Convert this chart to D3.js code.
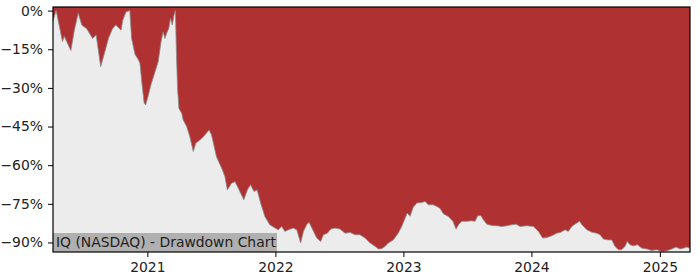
<!DOCTYPE html>
<html>
<head>
    <script src="https://d3js.org/d3.v7.min.js"></script>
    <style>
        body { margin: 0; background: #fff; }
        text { font-family: "DejaVu Sans", sans-serif; }
    </style>
</head>
<body>
    <svg id="chart"></svg>
    <script>
        // Drawdown values (%), one per date
        const dates = [
            "2020-04-07","2020-04-16","2020-05-04","2020-05-09","2020-05-28","2020-06-07","2020-06-18","2020-06-28",
            "2020-07-12","2020-07-29","2020-08-08","2020-08-21","2020-09-07","2020-09-12","2020-09-24","2020-10-03",
            "2020-10-18","2020-10-23","2020-11-01","2020-11-12","2020-11-17","2020-11-27","2020-12-06","2020-12-11",
            "2020-12-16","2020-12-23","2020-12-27","2021-01-04","2021-01-11","2021-01-23","2021-02-01","2021-02-09",
            "2021-02-15","2021-02-20","2021-02-25","2021-03-03","2021-03-08","2021-03-13","2021-03-18","2021-03-22",
            "2021-03-25","2021-03-28","2021-04-01","2021-04-09","2021-04-13","2021-04-23","2021-05-02","2021-05-12",
            "2021-05-19","2021-05-31","2021-06-14","2021-06-26","2021-07-03","2021-07-17","2021-08-01","2021-08-10",
            "2021-08-17","2021-08-29","2021-09-08","2021-09-17","2021-10-03","2021-10-13","2021-10-22","2021-11-01",
            "2021-11-10","2021-11-20","2021-12-02","2021-12-16","2021-12-31","2022-01-09","2022-01-19","2022-01-28",
            "2022-02-07","2022-02-21","2022-03-03","2022-03-14","2022-03-22","2022-03-31","2022-04-07","2022-04-15",
            "2022-04-29","2022-05-10","2022-05-18","2022-05-29","2022-06-08","2022-06-20","2022-07-04","2022-07-19",
            "2022-08-02","2022-08-16","2022-08-30","2022-09-14","2022-09-28","2022-10-12","2022-10-22","2022-10-31",
            "2022-11-10","2022-11-19","2022-12-03","2022-12-17","2022-12-27","2023-01-06","2023-01-12","2023-01-20",
            "2023-01-29","2023-02-08","2023-02-22","2023-03-04","2023-03-13","2023-03-27","2023-04-06","2023-04-15",
            "2023-04-25","2023-05-09","2023-05-22","2023-05-31","2023-06-07","2023-06-16","2023-07-01","2023-07-15",
            "2023-07-24","2023-08-01","2023-08-10","2023-08-17","2023-08-27","2023-09-10","2023-09-24","2023-10-09",
            "2023-10-23","2023-11-06","2023-11-18","2023-11-30","2023-12-19","2024-01-07","2024-01-21","2024-02-02",
            "2024-02-14","2024-02-28","2024-03-13","2024-03-23","2024-04-06","2024-04-15","2024-04-25","2024-05-05",
            "2024-05-17","2024-05-24","2024-06-07","2024-06-21","2024-07-05","2024-07-15","2024-07-24","2024-08-07",
            "2024-08-17","2024-08-26","2024-09-05","2024-09-14","2024-09-24","2024-09-30","2024-10-08","2024-10-18",
            "2024-10-29","2024-11-11","2024-11-25","2024-12-09","2024-12-23","2025-01-07","2025-01-21","2025-02-04",
            "2025-02-16","2025-02-28","2025-03-09","2025-03-19","2025-03-28"
        ];
        const drawdown = [
            -4, 0, -12, -10, -15.5, -7.5, -1, -5.6,
            -7, -10.8, -9.5, -21.8, -13.4, -10.8, -6.9, -5.6,
            -7.6, -3.7, -0.5, 0, -10.8, -17, -19, -20.5,
            -27.6, -36, -36.6, -32.8, -28.9, -23.7, -19.8, -12.1,
            -8.2, -10.8, -8.8, -6.9, -3, -5.6, -1.7, 0,
            -17, -30, -38, -39.8, -42.4, -45, -48.9, -54.7,
            -51.5, -50.2, -48.3, -46.3, -48.3, -56.7, -61.2, -64.4,
            -69.6, -67, -66.4, -68.9, -73.4, -69.6, -67.6, -70.2,
            -69.6, -74.7, -79.9, -83.1, -84.4, -85.1, -83.8, -85.7,
            -85.1, -84.4, -85.1, -90.2, -85.7, -83.1, -82.2, -84.4,
            -88.3, -89.6, -87, -86.4, -84.8, -84.4, -84.8, -86.4,
            -86.1, -87, -87, -88.3, -90.2, -91.5, -92.5, -92.4,
            -91.5, -90.2, -89, -86.4, -83.8, -80.5, -78.6, -79.8,
            -76.3, -74.7, -74.5, -74.1, -75.4, -75.4, -76, -76.7,
            -78.9, -79.9, -81.8, -84.8, -83.1, -81.8, -81.8, -81.6,
            -81.8, -79.6, -79.6, -81.2, -82.9, -83.4, -83.5, -83.8,
            -83.5, -83.1, -82.9, -83.8, -83.5, -83.8, -85.7, -88.3,
            -88.1, -87.4, -86.4, -86.1, -85.1, -85.7, -83.8, -82.8,
            -81.8, -83.1, -85.1, -86, -86.4, -87, -88.7, -89,
            -89, -91.5, -92.8, -92.8, -91.5, -89.6, -90.9, -91.3,
            -90.9, -92.2, -92.5, -93.1, -92.8, -93.5, -93.2, -92.5,
            -91.8, -92.5, -92.2, -91.8, -92.2
        ];
        const yTicks = [0, -15, -30, -45, -60, -75, -90];
        const xTickYears = [2021, 2022, 2023, 2024, 2025];
        const title = "IQ (NASDAQ) - Drawdown Chart";

        const width = 700, height = 280;
        const margin = {top: 7, right: 10, bottom: 28, left: 53};

        const parse = d3.timeParse("%Y-%m-%d");
        const data = dates.map((d, i) => ({date: parse(d), value: drawdown[i]}));

        const svg = d3.select("#chart")
            .attr("width", width)
            .attr("height", height);

        const x = d3.scaleTime()
            .domain(d3.extent(data, d => d.date))
            .range([margin.left, width - margin.right]);

        const y = d3.scaleLinear()
            .domain([-93.7, 1.4])
            .range([height - margin.bottom, margin.top]);

        // Red background for the plot area
        svg.append("rect")
            .attr("x", margin.left)
            .attr("y", margin.top)
            .attr("width", width - margin.left - margin.right)
            .attr("height", height - margin.top - margin.bottom)
            .attr("fill", "#b03131");

        // Grey area under the drawdown curve
        const area = d3.area()
            .x(d => x(d.date))
            .y0(height - margin.bottom)
            .y1(d => y(d.value));

        svg.append("path")
            .datum(data)
            .attr("d", area)
            .attr("fill", "#ececec");

        const line = d3.line()
            .x(d => x(d.date))
            .y(d => y(d.value));

        svg.append("path")
            .datum(data)
            .attr("d", line)
            .attr("fill", "none")
            .attr("stroke", "#8a8a8a")
            .attr("stroke-width", 0.8);

        // Title box in the lower left corner
        const tg = svg.append("g");
        tg.append("rect")
            .attr("x", margin.left)
            .attr("y", 233)
            .attr("width", 224)
            .attr("height", height - margin.bottom - 233)
            .attr("fill", "#b0b0b0");
        tg.append("text")
            .attr("x", margin.left + 3)
            .attr("y", 247)
            .attr("font-size", "13.9px")
            .attr("fill", "#222")
            .text(title);

        // Axes
        const fmt = d => (d < 0 ? "\u2212" + Math.abs(d) : d) + "%";
        const yAxis = svg.append("g")
            .attr("transform", `translate(${margin.left},0)`)
            .call(d3.axisLeft(y).tickValues(yTicks).tickFormat(fmt).tickSize(5).tickPadding(5));

        const xAxis = svg.append("g")
            .attr("transform", `translate(0,${height - margin.bottom})`)
            .call(d3.axisBottom(x)
                .tickValues(xTickYears.map(yr => new Date(yr, 0, 1)))
                .tickFormat(d3.timeFormat("%Y"))
                .tickSize(5).tickPadding(5));

        [yAxis, xAxis].forEach(g => {
            g.select(".domain").remove();
            g.selectAll("text")
                .attr("font-family", "DejaVu Sans, sans-serif")
                .attr("font-size", "13.9px")
                .attr("fill", "#222");
            g.selectAll("line").attr("stroke", "#000");
        });

        // Frame around the plot
        svg.append("rect")
            .attr("x", margin.left)
            .attr("y", margin.top)
            .attr("width", width - margin.left - margin.right)
            .attr("height", height - margin.top - margin.bottom)
            .attr("fill", "none")
            .attr("stroke", "#000")
            .attr("stroke-width", 1.2);
    </script>
</body>
</html>
